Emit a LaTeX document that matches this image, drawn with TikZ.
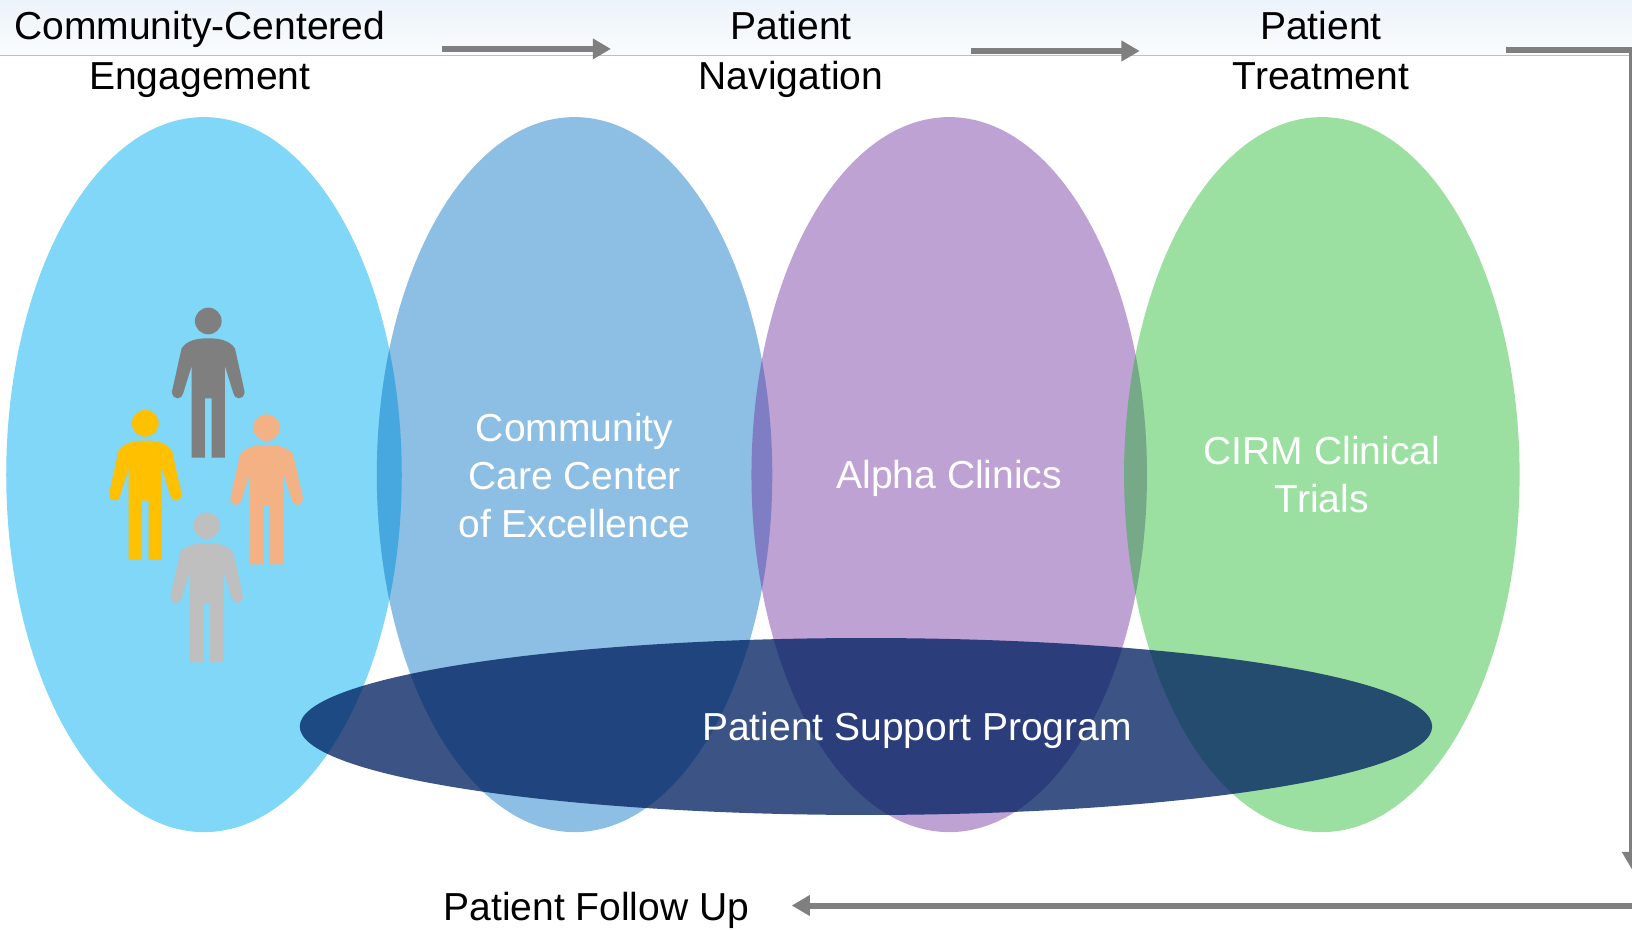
\documentclass[tikz,border=0pt]{standalone}
\usepackage{fontspec}
\setmainfont{Liberation Sans}
\usetikzlibrary{arrows.meta}
\definecolor{arrowgray}{HTML}{7F7F7F}
\definecolor{ellA}{HTML}{80D7F7}
\definecolor{ellB}{HTML}{0070C0}
\definecolor{ellC}{HTML}{7030A0}
\definecolor{ellD}{RGB}{14,180,29}
\definecolor{ellE}{HTML}{002060}
\definecolor{pdark}{HTML}{7F7F7F}
\definecolor{pyellow}{HTML}{FFC000}
\definecolor{ppeach}{HTML}{F4B183}
\definecolor{plight}{HTML}{BFBFBF}
\definecolor{bandtop}{RGB}{236,243,250}
\definecolor{bandbot}{RGB}{250,252,254}
\begin{document}
\begin{tikzpicture}[x=1pt,y=-1pt,
  flow/.style={draw=arrowgray,line width=5.8pt,-{Triangle[length=17.5pt,width=19pt]}},
  title/.style={font=\fontsize{37.5}{48}\selectfont,align=center,anchor=base,text=black,inner sep=0pt},
  inner/.style={title,font=\fontsize{37.5}{46}\selectfont,text=white},
  pics/person/.style={code={
    \fill[pic actions] (0,0) circle (40);
    \fill[pic actions] (-80,82) .. controls (-62,56) and (-30,52) .. (0,52)
      .. controls (30,52) and (62,56) .. (80,82) -- (109,212) -- (75,216)
      -- (50,135) -- (50,410) -- (10,410) -- (10,232) -- (-10,232)
      -- (-10,410) -- (-50,410) -- (-50,135) -- (-75,216) -- (-109,212) -- cycle;
    \fill[pic actions] (-92,215) circle (17);
    \fill[pic actions] (92,215) circle (17);
  }}]
\useasboundingbox (0,0) rectangle (1568,893.5);
% top band
\shade[top color=bandtop,bottom color=bandbot] (0,0) rectangle (1568,53);
\draw[color=plight,line width=1pt] (0,53) -- (1568,53);
% ellipses
\fill[ellA] (196,456) ellipse [x radius=190,y radius=343.5];
\fill[ellB,fill opacity=0.45] (552,456) ellipse [x radius=190,y radius=343.5];
\fill[ellC,fill opacity=0.45] (912,456) ellipse [x radius=190,y radius=343.5];
\fill[ellD,fill opacity=0.415] (1270,456) ellipse [x radius=190,y radius=343.5];
\fill[ellE,fill opacity=0.77] (832,698) ellipse [x radius=544,y radius=85];
% people
\pic[fill=pdark,scale=0.3203] at (200.1,308.4) {person};
\pic[fill=pyellow,scale=0.3203] at (139.6,406.7) {person};
\pic[fill=ppeach,scale=0.3203] at (256.2,410.9) {person};
\pic[fill=plight,scale=0.3203] at (198.6,505.1) {person};
% titles (base = last line baseline)
\node[title] (t1) at (192,86.4) {Community-Centered\\Engagement};
\node[title] (t2) at (760,86.4) {Patient\\Navigation};
\node[title] (t3) at (1269,86.4) {Patient\\Treatment};
\node[title] (t4) at (573,884) {Patient Follow Up};
% inner labels
\node[inner] (l1) at (552,516) {Community\\Care Center\\of Excellence};
\node[inner] (l2) at (912,469.5) {Alpha Clinics};
\node[inner] (l3) at (1270,492.6) {CIRM Clinical\\Trials};
\node[inner] (l4) at (881,711.5) {Patient Support Program};
% connectors
\coordinate (a1s) at (425,47);
\coordinate (a1e) at (587,47);
\coordinate (a2s) at (933,49);
\coordinate (a2e) at (1095,49);
\coordinate (a3s) at (1447,48.3);
\coordinate (a3c) at (1568.3,48.3);
\coordinate (a3e) at (1568.3,836);
\coordinate (a4s) at (1572,870);
\coordinate (a4e) at (760.6,870);
\draw[flow] (a1s) -- (a1e);
\draw[flow] (a2s) -- (a2e);
\draw[flow] (a3s) -- (a3c) -- (a3e);
\draw[flow] (a4s) -- (a4e);
\end{tikzpicture}
\end{document}
